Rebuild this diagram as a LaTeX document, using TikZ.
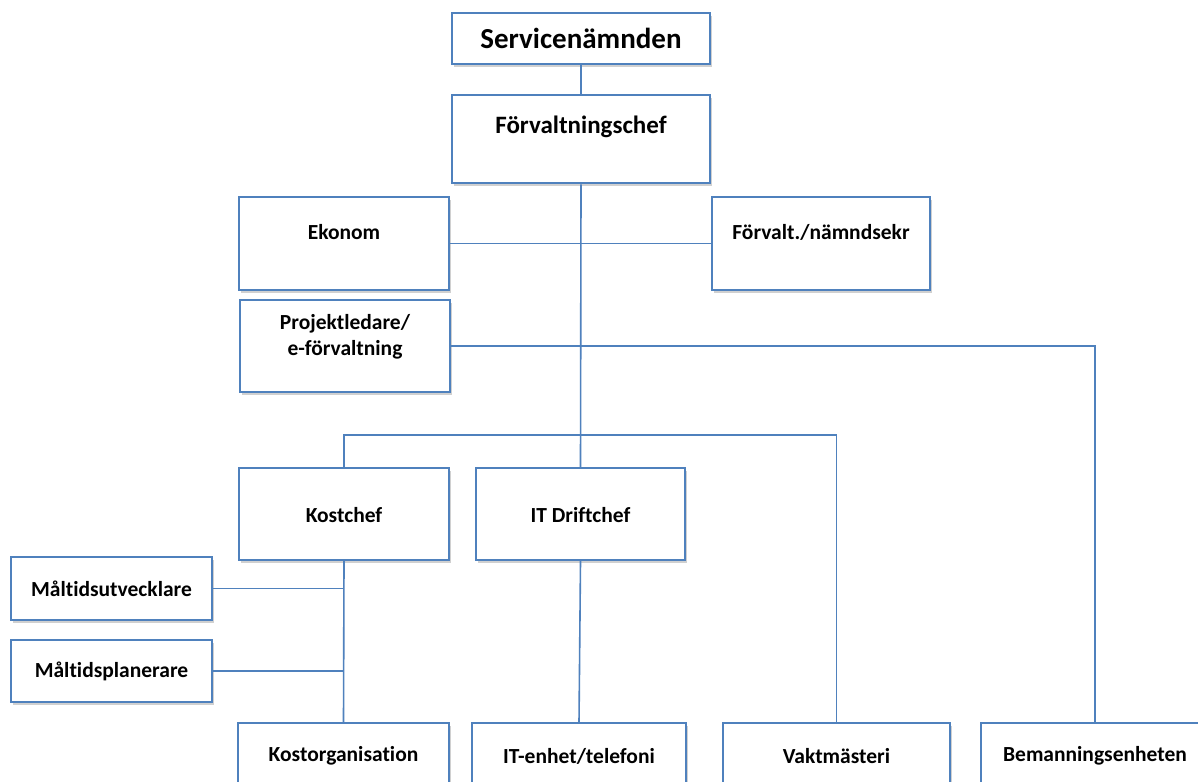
\documentclass[tikz,border=0pt]{standalone}
\usepackage{fontspec}
\setmainfont{Carlito}[Ligatures=NoCommon]
\usetikzlibrary{shadows}
\definecolor{obl}{HTML}{4F81BD}
\tikzset{
  x=1pt, y=-1pt,
  box/.style={draw=obl, line width=1.8pt, fill=white, inner sep=0pt,
    drop shadow={shadow xshift=2pt, shadow yshift=-3pt, opacity=0.3, fill=black!60}},
  topbox/.style={box, line width=2.8pt},
  lbl/.style={font=\fontsize{21.5}{26}\selectfont\bfseries, align=center, inner sep=0pt, text=black},
  conn/.style={draw=obl, line width=1.6pt}
}
\begin{document}
\begin{tikzpicture}
\useasboundingbox (0,0) rectangle (1198,781);
\clip (0,0) rectangle (1198,781);
\fill[white] (0,0) rectangle (1198,781);
% boxes
\node[topbox, minimum width=258, minimum height=51,
  label={[lbl, font=\fontsize{29}{34}\selectfont\bfseries]center:Servicenämnden}] (serv) at (581,38.5) {};
\node[topbox, minimum width=258, minimum height=88,
  label={[lbl, font=\fontsize{25}{30}\selectfont\bfseries, yshift=12pt]center:Förvaltningschef}] (chef) at (581,139) {};
\node[box, minimum width=210, minimum height=93,
  label={[lbl, yshift=11.5pt]center:Ekonom}] (ekonom) at (344,243.5) {};
\node[box, minimum width=218, minimum height=93,
  label={[lbl, yshift=11.5pt]center:Förvalt./nämndsekr}] (sekr) at (821,243.5) {};
\node[box, minimum width=210, minimum height=92,
  label={[lbl, yshift=9.5pt]center:Projektledare/\\e-förvaltning}] (proj) at (345,346) {};
\node[box, minimum width=210, minimum height=92,
  label={[lbl, yshift=-1pt]center:Kostchef}] (kost) at (344,514) {};
\node[box, minimum width=209, minimum height=92,
  label={[lbl, yshift=-1pt]center:IT Driftchef}] (itd) at (580.5,514) {};
\node[box, minimum width=201, minimum height=63,
  label={[lbl]center:Måltidsutvecklare}] (malu) at (111.5,588.5) {};
\node[box, minimum width=201, minimum height=62,
  label={[lbl]center:Måltidsplanerare}] (malp) at (111.5,671) {};
\node[box, minimum width=211, minimum height=92,
  label={[lbl, yshift=13pt]center:Kostorganisation}] (kostorg) at (343.5,769) {};
\node[box, minimum width=214, minimum height=92,
  label={[lbl, yshift=13pt]center:IT-enhet/telefoni}] (itenh) at (579,769) {};
\node[box, minimum width=227, minimum height=92,
  label={[lbl, yshift=13pt]center:Vaktmästeri}] (vakt) at (836.5,769) {};
\node[box, minimum width=228, minimum height=92,
  label={[lbl, yshift=13pt]center:Bemanningsenheten}] (bem) at (1095,769) {};
\coordinate (j) at (581,435);
% connectors
\draw[conn] (serv.south) -- (chef.north);
\draw[conn] (chef.south) -- (itd.north);
\draw[conn] (ekonom.east) -- (sekr.west);
\draw[conn] (proj.east) -| (bem.north);
\draw[conn] (kost.north) |- (j) -| (vakt.north);
\draw[conn] (kost.south) -- (kostorg.north);
\draw[conn] (malu.east) -- (malu.east -| kost.south);
\draw[conn] (malp.east) -- (malp.east -| kost.south);
\draw[conn] (itd.south) -- (itenh.north);
\end{tikzpicture}
\end{document}
